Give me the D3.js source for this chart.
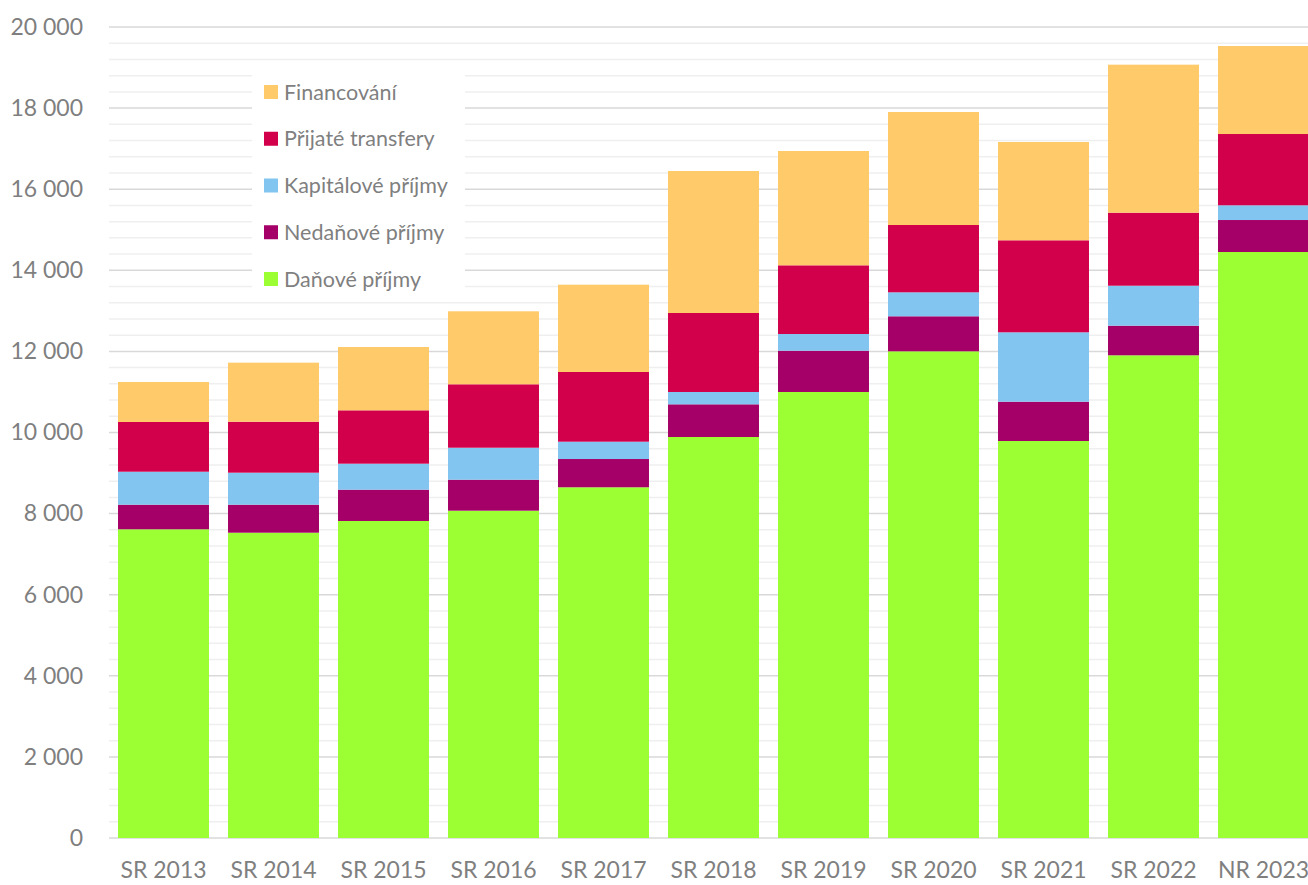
<!DOCTYPE html>
<html>
<head>
<meta charset="utf-8">
<script src="https://cdn.jsdelivr.net/npm/d3@7"></script>
<style>
  html, body { margin: 0; padding: 0; background: #fff; }
  svg { display: block; font-family: Lato, "Open Sans", sans-serif; }
</style>
</head>
<body>
<svg id="chart" width="1308" height="885"></svg>
<script>
const categories = ["SR 2013","SR 2014","SR 2015","SR 2016","SR 2017","SR 2018","SR 2019","SR 2020","SR 2021","SR 2022","NR 2023"];
const danove     = [7613, 7529, 7818, 8072, 8649, 9889, 10999, 12002, 9790, 11904, 14451];
const nedanove   = [607, 691, 772, 764, 697, 806, 1019, 864, 970, 730, 789];
const kapitalove = [813, 789, 641, 789, 427, 304, 411, 591, 1711, 986, 363];
const transfery  = [1226, 1257, 1316, 1564, 1719, 1948, 1694, 1660, 2269, 1801, 1758];
const financovani= [986, 1456, 1561, 1800, 2153, 3502, 2819, 2787, 2424, 3650, 2170];
const seriesNames = ["Daňové příjmy","Nedaňové příjmy","Kapitálové příjmy","Přijaté transfery","Financování"];
const seriesColors = ["#9BFF33","#A50068","#82C5F0","#D2004B","#FFCA69"];
const yTicks = [0,2000,4000,6000,8000,10000,12000,14000,16000,18000,20000];

const seriesValues = [danove, nedanove, kapitalove, transfery, financovani];
const keys = ["s0","s1","s2","s3","s4"];
const rows = categories.map((c,i) => {
  const r = {cat: c};
  keys.forEach((k,j) => r[k] = seriesValues[j][i]);
  return r;
});

const svg = d3.select("#chart");
const x = d3.scaleBand().domain(categories).range([108.5, 1318.5]).paddingInner(0.173).paddingOuter(0.0865);
const y = d3.scaleLinear().domain([0, 20000]).range([838, 27]);
const gridLeft = 109, gridRight = 1308;

// minor gridlines
const minor = d3.range(0, 20001, 400).filter(v => v % 2000 !== 0);
svg.append("g").selectAll("line").data(minor).join("line")
  .attr("x1", gridLeft).attr("x2", gridRight)
  .attr("y1", d => y(d)).attr("y2", d => y(d))
  .attr("stroke", "#efefef").attr("stroke-width", 1.5);
// major gridlines
svg.append("g").selectAll("line").data(yTicks).join("line")
  .attr("x1", gridLeft).attr("x2", gridRight)
  .attr("y1", d => y(d)).attr("y2", d => y(d))
  .attr("stroke", "#d9d9d9").attr("stroke-width", 1.5);

// legend background (covers gridlines)
svg.append("rect").attr("x", 252).attr("y", 65).attr("width", 213).attr("height", 232).attr("fill", "#fff");

// bars
const stack = d3.stack().keys(keys)(rows);
svg.append("g").selectAll("g").data(stack).join("g")
  .attr("fill", (d,i) => seriesColors[i])
  .selectAll("rect").data(d => d).join("rect")
  .attr("x", d => x(d.data.cat))
  .attr("width", x.bandwidth())
  .attr("y", d => y(d[1]))
  .attr("height", d => y(d[0]) - y(d[1]));

// y axis labels
const yAxis = d3.axisLeft(y).tickValues(yTicks).tickSize(0).tickPadding(0)
  .tickFormat(d => d3.format(",")(d).replace(/,/g, "\u00a0"));
const ga = svg.append("g").attr("transform", "translate(83,0)").call(yAxis);
ga.select(".domain").remove();
ga.selectAll("text").attr("fill", "#7f7f7f").attr("font-size", 23).attr("font-family", "Lato, sans-serif");

// x axis labels
const xAxis = d3.axisBottom(x).tickSize(0).tickPadding(0);
const gx = svg.append("g").attr("transform", "translate(0,862)").call(xAxis);
gx.select(".domain").remove();
gx.selectAll("text").attr("fill", "#7f7f7f").attr("font-size", 23).attr("font-family", "Lato, sans-serif");

// legend
const legendOrder = [4,3,2,1,0];
const lg = svg.append("g").selectAll("g").data(legendOrder).join("g")
  .attr("transform", (d,i) => `translate(264, ${92 + i*46.75})`);
lg.append("rect").attr("x", 0).attr("y", -7).attr("width", 14).attr("height", 14).attr("fill", d => seriesColors[d]);
lg.append("text").attr("x", 20).attr("y", 0).attr("dy", "0.35em")
  .attr("fill", "#7f7f7f").attr("font-size", 21.5).text(d => seriesNames[d]);
</script>
</body>
</html>
